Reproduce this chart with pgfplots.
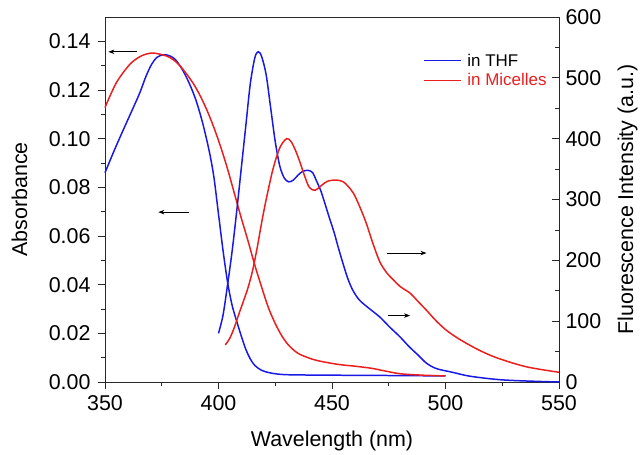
\documentclass[border=0pt]{standalone}
\usepackage{fontspec}
\setmainfont{Liberation Sans}
\usepackage{pgfplots}
\pgfplotsset{compat=1.18}
\usetikzlibrary{arrows.meta}
\definecolor{cblue}{RGB}{25,25,230}
\definecolor{cred}{RGB}{235,30,30}
\definecolor{axc}{RGB}{40,40,40}
\newcommand{\bigf}{\fontsize{21.5}{25}\selectfont}
\begin{document}
\begin{tikzpicture}
\begin{axis}[
  scale only axis, width=454bp, height=365bp,
  xmin=350, xmax=550, ymin=0, ymax=0.15,
  xtick={350,400,450,500,550}, minor x tick num=1,
  ytick={0,0.02,0.04,0.06,0.08,0.10,0.12,0.14}, minor y tick num=1,
  xtick pos=bottom, ytick pos=left, tick align=outside,
  major tick length=7bp, minor tick length=4bp,
  axis line style={axc, line width=0.9pt}, every tick/.style={axc, line width=0.8pt},
  scaled y ticks=false,
  yticklabel style={/pgf/number format/fixed, /pgf/number format/fixed zerofill, /pgf/number format/precision=2, xshift=-4bp},
  xticklabel style={yshift=-3bp},
  /pgf/number format/assume math mode=true,
  tick label style={font=\bigf},
  xlabel={Wavelength (nm)}, ylabel={Absorbance},
  label style={font=\bigf},
  xlabel style={at={(rel axis cs:0.5,-0.178)}, anchor=base},
  ylabel style={at={(rel axis cs:-0.1718,0.5)}, anchor=base},
  clip=false,
]
\coordinate (bl) at (rel axis cs:0,0);
\coordinate (tr) at (rel axis cs:1,1);
% absorbance THF
\addplot[cblue, line width=1.5pt, smooth] coordinates {
(350,0.086) (354,0.0950) (358,0.1035) (362,0.1118) (365.4,0.1190) (368,0.1255) (370.5,0.1305) (373,0.1335) (376,0.1345) (378.6,0.1340) (381,0.1325) (384,0.1285) (387,0.1230) (390,0.1160) (393,0.1065) (396,0.0945) (398,0.0840) (400,0.0690) (402,0.0540) (404,0.0410) (406,0.0315) (408,0.0250) (410,0.0190) (412,0.0135) (414,0.0095) (416,0.0068) (419,0.0048) (423,0.0037) (430,0.0030) (450,0.0028) (470,0.0027) (500,0.0025)};
% absorbance Micelles
\addplot[cred, line width=1.5pt, smooth] coordinates {
(350,0.1128) (355,0.1230) (361,0.1306) (366,0.1340) (371,0.1352) (377,0.1340) (380,0.1325) (383,0.1300) (386,0.1265) (389,0.1225) (392,0.1175) (395,0.1115) (398,0.1045) (401,0.0965) (404,0.0875) (407,0.0775) (410,0.0675) (413,0.0580) (416,0.0480) (419,0.0390) (422,0.0305) (425,0.0240) (428,0.0188) (431,0.0150) (435,0.0118) (440,0.0098) (445,0.0085) (453,0.0072) (460,0.0065) (467,0.0057) (473,0.0046) (480,0.0034) (490,0.0028) (500,0.0025)};
% arrows
\draw[black, line width=0.7pt, -{Stealth[length=6bp,width=4.5bp]}] (axis cs:364,0.1357) -- (axis cs:351.5,0.1357);
\draw[black, line width=0.7pt, -{Stealth[length=6bp,width=4.5bp]}] (axis cs:387.2,0.0698) -- (axis cs:373.5,0.0698);
\draw[black, line width=0.7pt, -{Stealth[length=6bp,width=4.5bp]}] (axis cs:474.3,0.053) -- (axis cs:491.6,0.053);
\draw[black, line width=0.7pt, -{Stealth[length=6bp,width=4.5bp]}] (axis cs:474.8,0.0273) -- (axis cs:484.4,0.0273);
\end{axis}
\begin{axis}[
  scale only axis, width=454bp, height=365bp,
  xmin=350, xmax=550, ymin=0, ymax=600,
  axis x line=none, axis y line*=right,
  ytick={0,100,...,600}, minor y tick num=1, ytick pos=right, tick align=inside,
  major tick length=7bp, minor tick length=4bp,
  axis line style={axc, line width=0.9pt}, every tick/.style={axc, line width=0.8pt},
  /pgf/number format/assume math mode=true,
  tick label style={font=\bigf},
  yticklabel style={xshift=3bp},
  ylabel={Fluorescence Intensity (a.u.)},
  label style={font=\bigf},
  ylabel style={at={(rel axis cs:1.163,0.5)}, anchor=base},
  legend style={at={(rel axis cs:0.700,0.905)}, anchor=north west, draw=none, fill=none, inner sep=0pt, row sep=2pt, font=\fontsize{17}{20}\selectfont},
  legend cell align=left,
  legend image code/.code={\draw[#1] (0bp,0bp) -- (37bp,0bp); \path (41bp,0bp);},
  clip=false,
]
\addplot[cblue, line width=1.5pt, smooth] coordinates {
(400,80) (402,110) (404,160) (406,215) (408,280) (410,350) (412,420) (414,490) (416,533) (417.5,543) (419,535) (421,505) (423,450) (425,395) (427,355) (429,335) (431,329) (433,332) (435,340) (437,346) (439.5,348) (441.5,344) (443,332) (445,315) (447,292) (449,268) (451,245) (453,218) (456.5,175) (459,152) (462,135) (466,122) (471,107) (475.5,90) (480,74) (484,58) (488,44) (491.6,31) (496,22) (503,16) (510,10) (518,6) (525,3.5) (533,2) (545,0.5) (550,0)};
\addlegendentry{in THF}
\addplot[cred, line width=1.5pt, smooth] coordinates {
(403,61) (405,72) (407,90) (409,112) (411,133) (413,155) (415,183) (417,220) (419,262) (421,300) (424,350) (427,385) (430,400) (432,395) (434,380) (436,360) (438,338) (440,320) (442.5,315) (445,322) (448,330) (452,332) (455,329) (457,322) (459.5,310) (462,290) (465,262) (468,228) (471,198) (474,180) (477,168) (480,157) (484.4,146) (488,132) (491.6,118) (496,100) (500.4,85) (505,73) (509,64) (515,52) (521,42) (528,33) (535.6,25) (543,20) (550,16)};
\addlegendentry{\textcolor{cred}{in Micelles}}
\end{axis}
\pgfresetboundingbox
\path ([shift={(-105bp,-73bp)}]bl) rectangle ([shift={(83bp,17bp)}]tr);
\end{tikzpicture}
\end{document}
